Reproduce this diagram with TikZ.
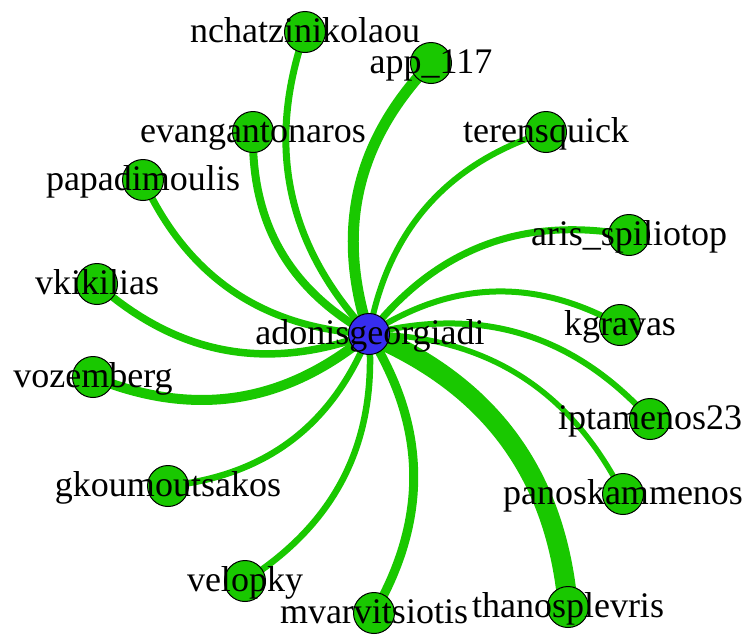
\documentclass[tikz,border=0pt]{standalone}
\usepackage{fontspec}
\setmainfont{Liberation Serif}
\definecolor{edgegreen}{RGB}{25,200,0}
\definecolor{vgreen}{RGB}{25,200,0}
\definecolor{vblue}{RGB}{55,45,240}
\begin{document}
\begin{tikzpicture}[x=1pt,y=-1pt,
  vert/.style={circle,draw=black,line width=1pt,fill=vgreen,minimum size=41pt,inner sep=0pt},
  hub/.style={vert,fill=vblue},
  lab/.style={anchor=base,inner sep=0pt,font=\fontsize{36}{40}\selectfont,text=black},
  edge/.style={draw=edgegreen,bend left=31}]
\useasboundingbox (0,0) rectangle (750,635);
\fill[white] (0,0) rectangle (750,635);
% vertices (positions)
\coordinate (c) at (369,334);
\coordinate (p1) at (305,32);
\coordinate (p2) at (431,63);
\coordinate (p3) at (253,132);
\coordinate (p4) at (143,180);
\coordinate (p5) at (97,284);
\coordinate (p6) at (546,132);
\coordinate (p7) at (629,235);
\coordinate (p8) at (620,325);
\coordinate (p9) at (650,419);
\coordinate (p10) at (623,494);
\coordinate (p11) at (568,607);
\coordinate (p12) at (374,613);
\coordinate (p13) at (245,581);
\coordinate (p14) at (168,486);
\coordinate (p15) at (93,377);
% edges
\draw[edge,line width=20pt] (c) to (p11);
\draw[edge,line width=7pt] (c) to (p1);
\draw[edge,line width=11pt] (c) to (p2);
\draw[edge,line width=8pt] (c) to (p3);
\draw[edge,line width=7pt] (c) to (p4);
\draw[edge,line width=7.5pt] (c) to (p5);
\draw[edge,line width=6pt] (c) to (p6);
\draw[edge,line width=7pt] (c) to (p7);
\draw[edge,line width=6pt] (c) to (p8);
\draw[edge,line width=6pt] (c) to (p9);
\draw[edge,line width=5.5pt] (c) to (p10);
\draw[edge,line width=9pt] (c) to (p12);
\draw[edge,line width=6.5pt] (c) to (p13);
\draw[edge,line width=6.5pt] (c) to (p14);
\draw[edge,line width=10pt] (c) to (p15);
% vertex circles
\node[hub] (vc) at (c) {};
\node[vert] (v1) at (p1) {};
\node[vert] (v2) at (p2) {};
\node[vert] (v3) at (p3) {};
\node[vert] (v4) at (p4) {};
\node[vert] (v5) at (p5) {};
\node[vert] (v6) at (p6) {};
\node[vert] (v7) at (p7) {};
\node[vert] (v8) at (p8) {};
\node[vert] (v9) at (p9) {};
\node[vert] (v10) at (p10) {};
\node[vert] (v11) at (p11) {};
\node[vert] (v12) at (p12) {};
\node[vert] (v13) at (p13) {};
\node[vert] (v14) at (p14) {};
\node[vert] (v15) at (p15) {};
% labels
\node[lab] (lc) at (370,344) {adonisgeorgiadi};
\node[lab] (l1) at (305,42) {nchatzinikolaou};
\node[lab] (l2) at (431,73) {app\_117};
\node[lab] (l3) at (253,142) {evangantonaros};
\node[lab] (l4) at (143,190) {papadimoulis};
\node[lab] (l5) at (97,294) {vkikilias};
\node[lab] (l6) at (546,142) {terensquick};
\node[lab] (l7) at (629,245) {aris\_spiliotop};
\node[lab] (l8) at (620,335) {kgravas};
\node[lab] (l9) at (650,429) {iptamenos23};
\node[lab] (l10) at (623,504) {panoskammenos};
\node[lab] (l11) at (568,617) {thanosplevris};
\node[lab] (l12) at (374,623) {mvarvitsiotis};
\node[lab] (l13) at (245,591) {velopky};
\node[lab] (l14) at (168,496) {gkoumoutsakos};
\node[lab] (l15) at (93,387) {vozemberg};
\end{tikzpicture}
\end{document}
